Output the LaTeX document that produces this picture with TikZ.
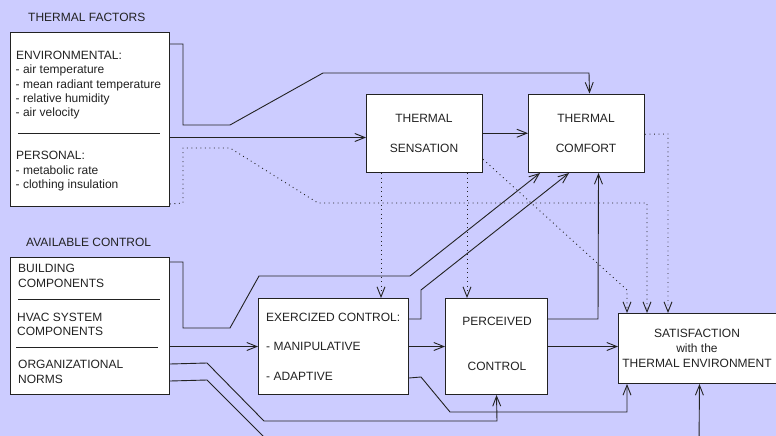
\documentclass[tikz,border=0pt]{standalone}
\usepackage{fontspec}
\setmainfont{Liberation Sans}
\usetikzlibrary{arrows.meta,calc}
\definecolor{bg}{HTML}{CCCCFF}
\definecolor{ln}{HTML}{222222}
\begin{document}
\begin{tikzpicture}[x=1pt,y=-1pt,
  box/.style={draw=ln, line width=1pt, fill=white, inner sep=0pt, anchor=north west},
  txt/.style={inner sep=0pt, anchor=base west, font=\fontsize{12}{14}\selectfont, text=ln},
  ctxt/.style={inner sep=0pt, anchor=base, font=\fontsize{12}{14}\selectfont, text=ln},
  conn/.style={draw=ln, line width=0.9pt},
  arr/.style={conn, -{Straight Barb[length=10pt,width=8pt]}},
  dots/.style={draw=ln, line width=0.9pt, dash pattern=on 0.9pt off 3.6pt},
  darr/.style={dots, -{Straight Barb[length=10pt,width=8pt]}},
  sep/.style={draw=ln, line width=0.9pt}
]
\fill[bg] (0,0) rectangle (776,436);
\useasboundingbox (0,0) rectangle (776,436);

% ---- boxes
\node[box, minimum width=159.5pt, minimum height=174pt] (tf) at (9.5,32) {};
\node[box, minimum width=159.5pt, minimum height=137pt] (av) at (9.5,257) {};
\node[box, minimum width=116pt, minimum height=78.5pt] (sn) at (366,93.5) {};
\node[box, minimum width=116pt, minimum height=78.5pt] (co) at (528,93.5) {};
\node[box, minimum width=150pt, minimum height=96pt] (ex) at (258,298) {};
\node[box, minimum width=102pt, minimum height=96pt] (pc) at (445,298) {};
\node[box, minimum width=162pt, minimum height=70pt] (sat) at (618,313) {};

% ---- titles
\node[txt] (tft) at (28,21.3) {THERMAL FACTORS};
\node[txt] (avt) at (26,246) {AVAILABLE CONTROL};

% ---- thermal factors text
\node[txt] (e0) at (16,59.3) {ENVIRONMENTAL:};
\node[txt] (e1) at (15.5,73.7) {- air temperature};
\node[txt] (e2) at (15.5,88.1) {- mean radiant temperature};
\node[txt] (e3) at (15.5,102.5) {- relative humidity};
\node[txt] (e4) at (15.5,116.9) {- air velocity};
\draw[sep] (18,133.3) -- (159.5,133.3);
\node[txt] (p0) at (16,159.3) {PERSONAL:};
\node[txt] (p1) at (15.5,174) {- metabolic rate};
\node[txt] (p2) at (15.5,188.5) {- clothing insulation};

% ---- available control text
\node[txt] (a1) at (18,272) {BUILDING};
\node[txt] (a2) at (18,287) {COMPONENTS};
\draw[sep] (18,299) -- (159.5,299);
\node[txt] (a3) at (17,321) {HVAC SYSTEM};
\node[txt] (a4) at (17,335.5) {COMPONENTS};
\draw[sep] (16,347.7) -- (157.5,347.7);
\node[txt] (a5) at (18,368.3) {ORGANIZATIONAL};
\node[txt] (a6) at (18,383.3) {NORMS};

% ---- other box texts
\node[ctxt] (sn1) at (424,122.3) {THERMAL};
\node[ctxt] (sn2) at (424,152.3) {SENSATION};
\node[ctxt] (co1) at (586,122.3) {THERMAL};
\node[ctxt] (co2) at (586,152.3) {COMFORT};
\node[txt] (ex1) at (266,321.3) {EXERCIZED CONTROL:};
\node[txt] (ex2) at (266,350.3) {- MANIPULATIVE};
\node[txt] (ex3) at (266,380) {- ADAPTIVE};
\node[ctxt] (pc1) at (497,325.3) {PERCEIVED};
\node[ctxt] (pc2) at (497,370.3) {CONTROL};
\node[ctxt] (st1) at (697,337.3) {SATISFACTION};
\node[ctxt] (st2) at (697,352.3) {with the};
\node[ctxt] (st3) at (697,367.3) {THERMAL ENVIRONMENT};

% ---- free ends
\coordinate (offA) at (272,445);
\coordinate (offB) at (699,445);

% ---- solid connectors
\draw[arr] ($(tf.north east)+(0,12)$) -- (183,44) -- (183,125) -- (230,125) -- (323,73) -- (589,73) -- ($(co.north)+(3,0)$);
\draw[arr] ($(tf.east)+(0,18)$) -- ($(sn.west)+(0,4.25)$);
\draw[arr] (sn.east) -- (co.west);
\draw[arr] ($(av.north east)+(0,5)$) -- (183,262) -- (183,328) -- (230,328) -- (259,276) -- (410,276) -- ($(co.south west)+(12,0)$);
\draw[arr] ($(ex.north east)+(0,21)$) -- (421,319) -- (421,290) -- ($(co.south west)+(41,0)$);
\draw[arr] (av.east |- ex.west) -- (ex.west);
\draw[arr] (ex.east) -- (pc.west);
\draw[arr] ($(pc.north east)+(0,21)$) -- (598,319) -- ($(co.south)+(12,0)$);
\draw[arr] (pc.east) -- (sat.west |- pc.east);
\draw[arr] ($(ex.south east)+(0,-17)$) -- (421,377) -- (450,412) -- (627,412) -- ($(sat.south west)+(9,0)$);
\draw[arr] ($(av.south east)+(0,-31)$) -- (207,363) -- (264,421) -- (497,421) -- (pc.south);
\draw[conn] ($(av.south east)+(0,-14)$) -- (207,380) -- (offA);
\draw[arr] (offB) -- (sat.south);

% ---- dotted connectors
\draw[darr] ($(tf.south east)+(0,-3)$) -- (183,203) -- (183,148) -- (230,148) -- (318,203) -- (647,203) -- ($(sat.north west)+(29,0)$);
\draw[darr] ($(sn.east)+(0,26)$) -- (627,290) -- ($(sat.north west)+(9,0)$);
\draw[darr] ($(co.east)+(0,1)$) -- (668,134) -- ($(sat.north west)+(50,0)$);
\draw[darr] ($(sn.south west)+(15,0)$) -- ($(ex.north west)+(123,0)$);
\draw[darr] ($(sn.south west)+(101,0)$) -- ($(pc.north west)+(22,0)$);
\end{tikzpicture}
\end{document}
